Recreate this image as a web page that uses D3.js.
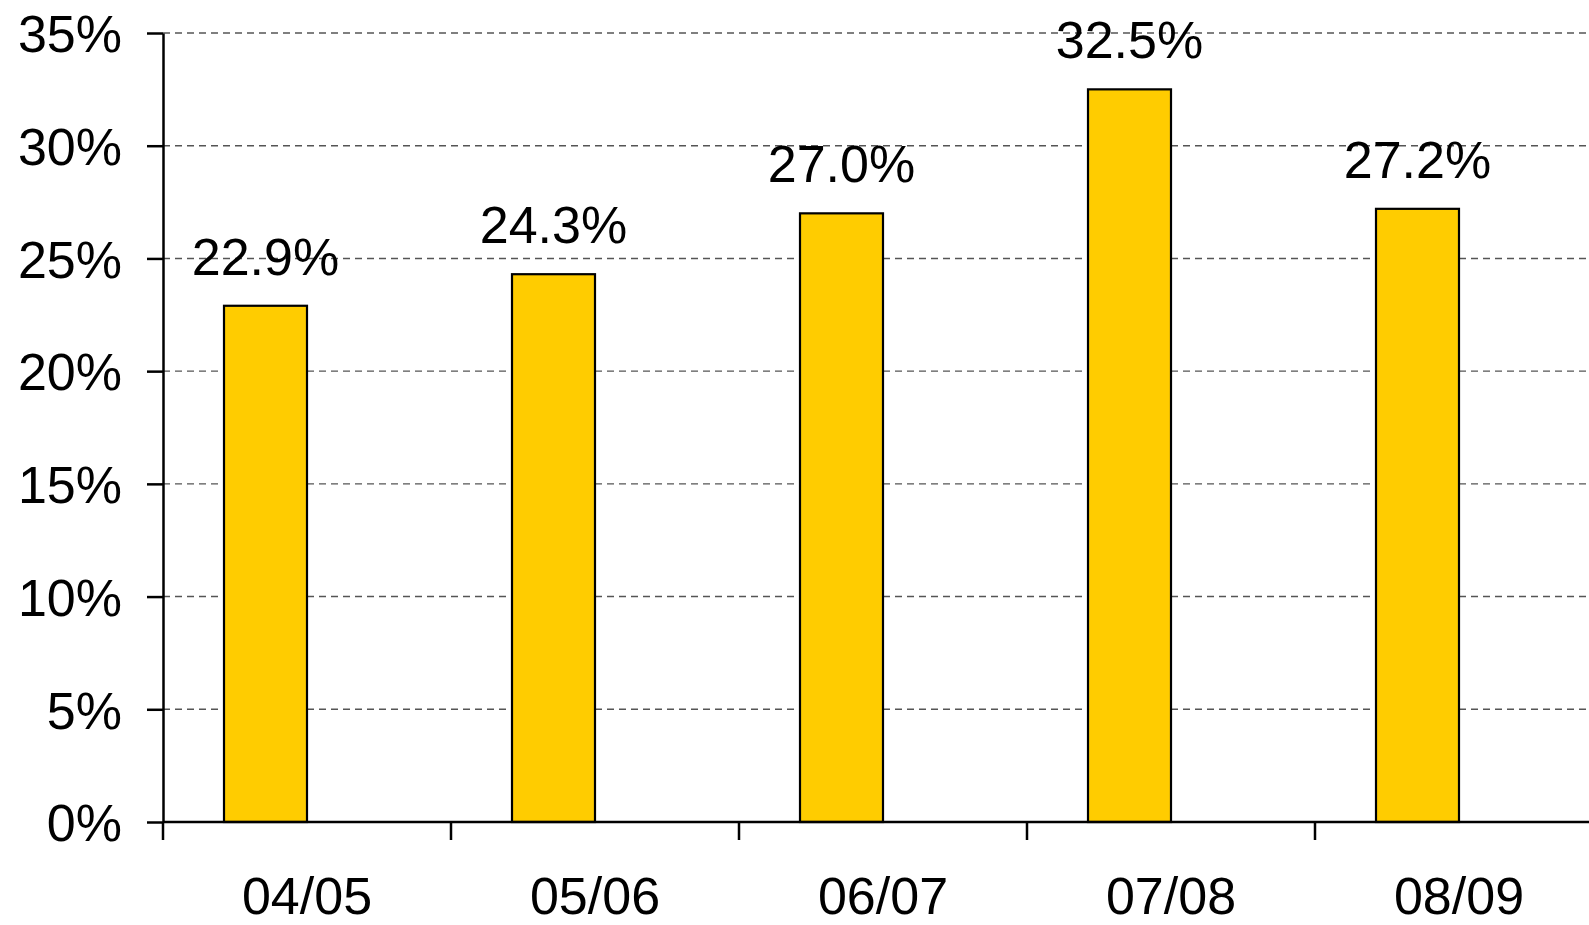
<!DOCTYPE html>
<html>
<head>
<meta charset="utf-8">
<script src="https://cdn.jsdelivr.net/npm/d3@7"></script>
<style>
  body { margin: 0; background: #fff; }
  svg text { font-family: "Liberation Sans", Arial, sans-serif; fill: #000; }
</style>
</head>
<body>
<svg id="chart" width="1589" height="925"></svg>
<script>
var years = ['04/05', '05/06', '06/07', '07/08', '08/09'];
var shares = [22.9, 24.3, 27.0, 32.5, 27.2];
var yTicks = [0, 5, 10, 15, 20, 25, 30, 35];

var margin = {top: 33, left: 163},
    plotH = 789,
    band = 288,
    plotW = band * years.length,
    fontSize = '52px';

var svg = d3.select('svg#chart')
    .append('g').attr('transform', 'translate(' + margin.left + ',' + margin.top + ')');

var x = d3.scaleBand().domain(years).range([0, plotW]);
// Excel-style: two slots per category, second one is empty
var x1 = d3.scaleBand().domain(['value', 'blank']).range([0, x.bandwidth()]).paddingOuter(0.735);
var y = d3.scaleLinear().domain([0, 35]).range([plotH, 0]);

// grid lines
svg.selectAll('line.grid').data(yTicks.filter(function(d) { return d > 0; }))
    .enter().append('line')
    .attr('class', 'grid')
    .attr('x1', 0).attr('x2', plotW)
    .attr('y1', function(d) { return y(d); })
    .attr('y2', function(d) { return y(d); })
    .style('stroke', '#555')
    .style('stroke-width', 1.4)
    .style('stroke-dasharray', '7,5');

// bars
svg.selectAll('rect.bar').data(shares)
    .enter().append('rect')
    .attr('class', 'bar')
    .attr('x', function(d, i) { return x(years[i]) + x1('value'); })
    .attr('width', x1.bandwidth())
    .attr('y', function(d) { return y(d); })
    .attr('height', function(d) { return plotH - y(d); })
    .style('fill', '#FFCC00')
    .style('stroke', '#000')
    .style('stroke-width', 2.2);

// value labels
svg.selectAll('text.val').data(shares)
    .enter().append('text')
    .attr('class', 'val')
    .attr('x', function(d, i) { return x(years[i]) + x1('value') + x1.bandwidth() / 2; })
    .attr('y', function(d) { return y(d) - 31; })
    .style('font-size', fontSize)
    .style('text-anchor', 'middle')
    .text(function(d) { return d.toFixed(1) + '%'; });

// y axis
var yAxis = d3.axisLeft(y).tickValues(yTicks).tickSize(16).tickSizeOuter(0).tickPadding(25)
    .tickFormat(function(d) { return d + '%'; });
var gy = svg.append('g').attr('class', 'y axis').call(yAxis);
gy.selectAll('path, line').style('stroke', '#000').style('stroke-width', 2.5);
gy.selectAll('text').style('font-size', fontSize).attr('dy', '0.36em')
    .style('font-family', '"Liberation Sans", Arial, sans-serif');

// x axis line and boundary ticks
svg.append('line')
    .attr('x1', 0).attr('x2', plotW)
    .attr('y1', plotH).attr('y2', plotH)
    .style('stroke', '#000').style('stroke-width', 2.5);
var bounds = years.map(function(d) { return x(d); }).concat([plotW]);
svg.selectAll('line.xtick').data(bounds)
    .enter().append('line')
    .attr('class', 'xtick')
    .attr('x1', function(d) { return d; }).attr('x2', function(d) { return d; })
    .attr('y1', plotH).attr('y2', plotH + 18)
    .style('stroke', '#000').style('stroke-width', 2.5);
svg.selectAll('text.xlab').data(years)
    .enter().append('text')
    .attr('class', 'xlab')
    .attr('x', function(d) { return x(d) + x.bandwidth() / 2; })
    .attr('y', plotH + 92)
    .style('font-size', fontSize)
    .style('text-anchor', 'middle')
    .text(function(d) { return d; });
</script>
</body>
</html>
